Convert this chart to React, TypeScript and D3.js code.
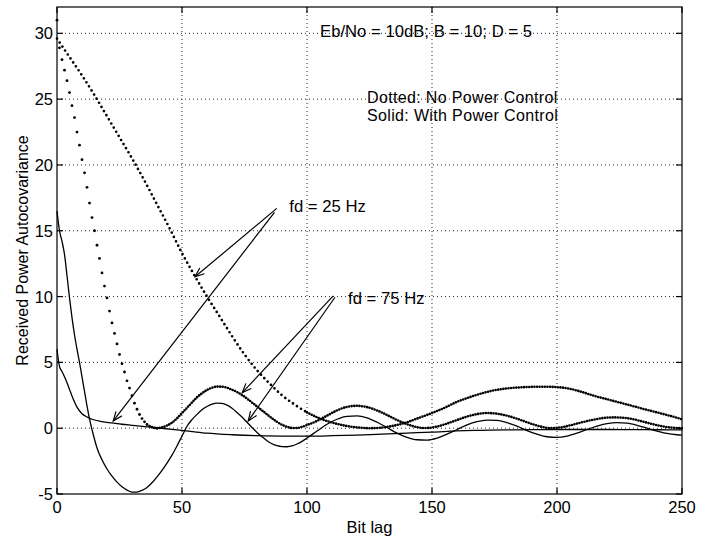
import React from 'react';
import * as d3 from 'd3';

// ---------- data ----------
const xTicks = [0, 50, 100, 150, 200, 250];
const yTicks = [-5, 0, 5, 10, 15, 20, 25, 30];
const xGrid = [50, 100, 150, 200];
const yGrid = [0, 5, 10, 15, 20, 25, 30];

// fd = 25 Hz, no power control (dotted)
const fd25NoPCLags = [0, 5, 10, 15, 20, 25, 30, 35, 40, 45, 50, 55, 60, 65, 70, 75, 80, 85, 90, 95, 100,
  105, 110, 115, 120, 125, 130, 135, 140, 145, 150, 155, 160, 165, 170, 175, 180, 185, 190, 195, 200,
  205, 210, 215, 220, 225, 230, 235, 240, 245, 250];
const fd25NoPC = [29.6, 28.2, 26.8, 25.3, 23.7, 22.1, 20.5, 18.8, 17.0, 15.2, 13.3,
  11.6, 10.0, 8.5, 7.0, 5.6, 4.4, 3.4, 2.5, 1.8, 1.2,
  0.75, 0.43, 0.2, 0.06, 0.0, 0.05, 0.2, 0.45, 0.8, 1.15,
  1.55, 2.0, 2.35, 2.65, 2.88, 3.02, 3.1, 3.14, 3.15, 3.12,
  3.0, 2.75, 2.45, 2.2, 1.95, 1.7, 1.44, 1.2, 0.95, 0.68];

// fd = 75 Hz, no power control: separate dots at each bit lag (steep part)
const fd75NoPCDotLags = [0, 1, 2, 3, 4, 5, 6, 7, 8, 9, 10, 11, 12, 13, 14, 15, 16, 17, 18, 19, 20,
  21, 22, 23, 24, 25, 26, 27, 28, 29, 30, 31, 32, 33, 34, 35, 36, 37, 38, 39, 40];
const fd75NoPCDots = [31.0, 28.9, 28.0, 27.2, 26.4, 25.5, 24.5, 23.6, 22.5, 21.5, 20.4,
  19.4, 18.3, 17.1, 16.0, 15.0, 13.9, 12.9, 11.8, 10.8, 9.9,
  8.9, 8.0, 7.2, 6.4, 5.6, 4.9, 4.27, 3.6, 3.05, 2.47,
  1.9, 1.44, 1.04, 0.73, 0.48, 0.28, 0.15, 0.07, 0.02, 0.0];
// fd = 75 Hz, no power control: dense (merged dots) part
const fd75NoPCLags = [40, 42, 44, 46, 48, 50, 52, 54, 56, 58, 60, 62, 64, 66, 68, 70, 72, 74, 76, 78, 80,
  82, 84, 86, 88, 90, 92, 94, 96, 98, 100,
  104, 108, 112, 116, 120, 124, 128, 132, 136, 140, 144, 146, 148,
  152, 156, 160, 164, 168, 172, 176, 180, 184, 188, 192, 196, 198,
  202, 206, 210, 214, 218, 222, 226, 230, 234, 238, 242, 246, 250];
const fd75NoPC = [0.0, 0.06, 0.2, 0.42, 0.75, 1.15, 1.55, 1.95, 2.35, 2.65, 2.9, 3.07, 3.16, 3.15, 3.07, 2.92, 2.75, 2.52, 2.25, 1.95, 1.65,
  1.35, 1.05, 0.75, 0.48, 0.26, 0.1, 0.02, 0.02, 0.1, 0.24,
  0.55, 0.95, 1.35, 1.62, 1.7, 1.6, 1.35, 1.0, 0.62, 0.3, 0.08, 0.02, 0.02,
  0.12, 0.35, 0.62, 0.88, 1.07, 1.15, 1.1, 0.95, 0.72, 0.45, 0.2, 0.03, 0.01,
  0.08, 0.25, 0.45, 0.62, 0.76, 0.82, 0.8, 0.7, 0.52, 0.32, 0.15, 0.04, 0.0];

// fd = 75 Hz, with power control (solid)
const fd75PCLags = [0, 1, 2, 3, 4, 5, 6, 7, 8, 9, 10, 11, 12, 13, 14, 16, 18, 20, 22, 24, 26, 28, 30,
  32, 34, 36, 38, 40, 42, 44, 46, 48, 50, 52, 54, 56, 58, 60, 62, 64, 66, 68, 70, 72, 74, 76, 78, 80,
  82, 84, 86, 88, 90, 92, 94, 96, 98, 100, 104, 108, 112, 116, 120, 124, 128, 132, 136, 140, 144, 148,
  152, 156, 160, 164, 168, 172, 176, 180, 184, 188, 192, 196, 200, 204, 208, 212, 216, 220, 224, 228,
  232, 236, 240, 244, 248, 250];
const fd75PC = [16.5, 15.0, 14.2, 13.2, 11.6, 9.9, 8.4, 7.1, 6.0, 5.0, 3.9, 2.8, 1.7, 0.7, -0.1, -1.5, -2.4, -3.1, -3.65, -4.1, -4.45, -4.7, -4.85,
  -4.85, -4.72, -4.5, -4.15, -3.7, -3.2, -2.65, -2.05, -1.35, -0.6, 0.15, 0.65, 1.05, 1.4, 1.65, 1.82, 1.9, 1.88, 1.75, 1.52, 1.2, 0.85, 0.45, 0.05, -0.32,
  -0.65, -0.95, -1.18, -1.33, -1.4, -1.41, -1.35, -1.2, -1.0, -0.75, -0.22, 0.3, 0.68, 0.9, 0.93, 0.78, 0.45, 0.05, -0.38, -0.7, -0.88, -0.9,
  -0.75, -0.45, -0.1, 0.25, 0.5, 0.62, 0.6, 0.42, 0.15, -0.18, -0.45, -0.65, -0.7, -0.6, -0.38, -0.1, 0.15, 0.35, 0.43, 0.38,
  0.22, 0.0, -0.22, -0.4, -0.5, -0.53];

// fd = 25 Hz, with power control (solid)
const fd25PCLags = [0, 1, 2, 3, 4, 5, 6, 8, 10, 12, 14, 18, 22, 26, 30, 35, 40, 45, 50, 55, 60, 70, 80, 90, 100,
  110, 120, 130, 140, 150, 160, 170, 180, 190, 200, 210, 220, 230, 240, 250];
const fd25PC = [6.0, 4.7, 4.3, 3.9, 3.45, 2.95, 2.45, 1.6, 1.1, 0.85, 0.68, 0.5, 0.4, 0.3, 0.22, 0.12, 0.03, -0.07, -0.17, -0.28, -0.38, -0.5, -0.57, -0.6, -0.6,
  -0.57, -0.52, -0.45, -0.37, -0.3, -0.2, -0.16, -0.13, -0.11, -0.1, -0.1, -0.1, -0.11, -0.12, -0.13];

// annotations (data coordinates)
const annoLabels = ['fd = 25 Hz', 'fd = 75 Hz'];
const annoTextPos = [[92.9, 16.4], [116.4, 9.4]];
const annoArrows = [
  [[[87.9, 16.7], [55.2, 11.5]], [[87.0, 16.4], [22.5, 0.55]]],
  [[[110.5, 10.05], [74.1, 2.7]], [[111.2, 9.95], [76.5, 0.55]]],
];
const titleText = 'Eb/No = 10dB; B = 10; D = 5';
const legendLines = ['Dotted: No Power Control', 'Solid: With Power Control'];
const xLabel = 'Bit lag';
const yLabel = 'Received Power Autocovariance';

// ---------- layout ----------
const W = 708, H = 537;
const L = 57, R = 682, T = 7, B = 494;
const FONT = "'Liberation Sans', Arial, Helvetica, sans-serif";

export default function App() {
  const x = d3.scaleLinear().domain([0, 250]).range([L, R]);
  const y = d3.scaleLinear().domain([-5, 32]).range([B, T]);

  const line = d3.line<[number, number]>()
    .x(d => x(d[0]))
    .y(d => y(d[1]))
    .curve(d3.curveMonotoneX);

  const zip = (a: number[], b: number[]) => a.map((v, i) => [v, b[i]] as [number, number]);

  const fd25NoPCPts = zip(fd25NoPCLags, fd25NoPC);
  const fd25Steep = fd25NoPCPts.filter(p => p[0] <= 100);
  const fd25Flat = fd25NoPCPts.filter(p => p[0] >= 100);

  const arrowHead = (x1: number, y1: number, x2: number, y2: number) => {
    const ang = Math.atan2(y1 - y2, x1 - x2);
    const len = 10, spread = 0.38;
    const a = [x2 + len * Math.cos(ang + spread), y2 + len * Math.sin(ang + spread)];
    const b = [x2 + len * Math.cos(ang - spread), y2 + len * Math.sin(ang - spread)];
    return `M${a[0]},${a[1]}L${x2},${y2}L${b[0]},${b[1]}`;
  };

  return (
    <svg width={W} height={H} style={{ position: 'absolute', left: 0, top: 0, background: '#fff' }}
      fontFamily={FONT}>
      <rect x={0} y={0} width={W} height={H} fill="#fff" />
      {/* grid */}
      <g stroke="#222" strokeWidth={1} strokeDasharray="1 3">
        {xGrid.map(t => <line key={'gx' + t} x1={x(t)} x2={x(t)} y1={T} y2={B} />)}
        {yGrid.map(t => <line key={'gy' + t} x1={L} x2={R} y1={y(t)} y2={y(t)} />)}
      </g>
      {/* axes box */}
      <rect x={L} y={T} width={R - L} height={B - T} fill="none" stroke="#000" strokeWidth={1.2} />
      <g stroke="#000" strokeWidth={1.2}>
        {xTicks.map(t => (
          <g key={'tx' + t}>
            <line x1={x(t)} x2={x(t)} y1={B} y2={B - 6} />
            <line x1={x(t)} x2={x(t)} y1={T} y2={T + 6} />
          </g>
        ))}
        {yTicks.map(t => (
          <g key={'ty' + t}>
            <line x1={L} x2={L + 6} y1={y(t)} y2={y(t)} />
            <line x1={R} x2={R - 6} y1={y(t)} y2={y(t)} />
          </g>
        ))}
      </g>
      {/* tick labels */}
      <g fontSize={16.5} fill="#000">
        {xTicks.map(t => (
          <text key={'lx' + t} x={x(t)} y={513} textAnchor="middle">{t}</text>
        ))}
        {yTicks.map(t => (
          <text key={'ly' + t} x={53} y={y(t)} dy="0.36em" textAnchor="end">{t < 0 ? '-' + Math.abs(t) : t}</text>
        ))}
      </g>
      <text x={(L + R) / 2} y={533} fontSize={16.5} textAnchor="middle">{xLabel}</text>
      <text transform={`translate(28,${(T + B) / 2}) rotate(-90)`} fontSize={16} textAnchor="middle">{yLabel}</text>

      {/* curves */}
      <path d={line(zip(fd25PCLags, fd25PC)) || ''} fill="none" stroke="#000" strokeWidth={1.3} />
      <path d={line(zip(fd75PCLags, fd75PC)) || ''} fill="none" stroke="#000" strokeWidth={1.3} />
      <path d={line(fd25Steep) || ''} fill="none" stroke="#000" strokeWidth={2.7}
        strokeLinecap="round" strokeDasharray="0 4.8" />
      <path d={line(fd25Flat) || ''} fill="none" stroke="#000" strokeWidth={2.6}
        strokeLinecap="round" strokeDasharray="0 2.6" />
      {fd75NoPCDotLags.map((l, i) => (
        <circle key={'d' + l} cx={x(l)} cy={y(fd75NoPCDots[i])} r={1.4} fill="#000" />
      ))}
      <path d={line(zip(fd75NoPCLags, fd75NoPC)) || ''} fill="none" stroke="#000" strokeWidth={2.6}
        strokeLinecap="round" strokeDasharray="0 2.6" />

      {/* annotations */}
      <g stroke="#000" strokeWidth={1.2} fill="none">
        {annoArrows.map((pair, i) => pair.map((seg, j) => {
          const x1 = x(seg[0][0]), y1 = y(seg[0][1]), x2 = x(seg[1][0]), y2 = y(seg[1][1]);
          return (
            <g key={`a${i}${j}`}>
              <line x1={x1} y1={y1} x2={x2} y2={y2} />
              <path d={arrowHead(x1, y1, x2, y2)} />
            </g>
          );
        }))}
      </g>
      <g fontSize={16.7} fill="#000">
        {annoLabels.map((s, i) => (
          <text key={s} x={x(annoTextPos[i][0])} y={y(annoTextPos[i][1])}>{s}</text>
        ))}
        <text x={320} y={37}>{titleText}</text>
      </g>
      <g fontSize={16} fill="#000" letterSpacing={0.35}>
        {legendLines.map((s, i) => (
          <text key={s} x={367} y={103 + i * 18}>{s}</text>
        ))}
      </g>
    </svg>
  );
}
